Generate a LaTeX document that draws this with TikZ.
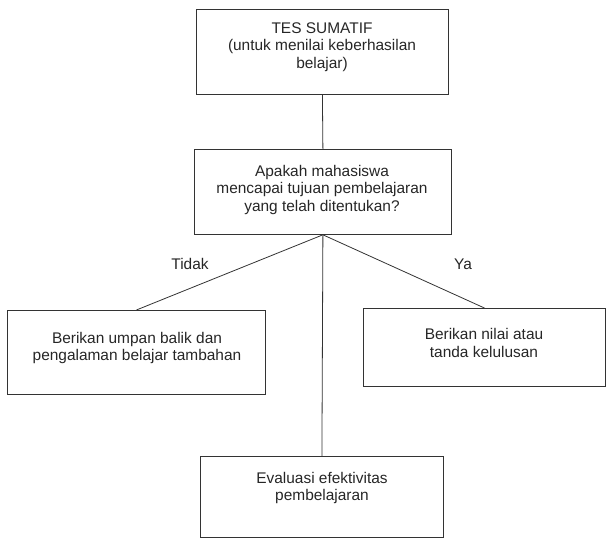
\documentclass[tikz,border=0pt]{standalone}
\usepackage{fontspec}
\setmainfont{Liberation Sans}
\begin{document}
\begin{tikzpicture}[x=1bp,y=-1bp,
  boxframe/.style={draw=black!80,line width=0.8bp},
  boxtext/.style={align=center,text=black!85,font=\fontsize{15.5}{17.5}\selectfont,inner sep=0pt},
  link/.style={draw=black!80,line width=0.8bp},
  lbl/.style={text=black!85,font=\fontsize{15.5}{17.5}\selectfont,inner sep=0pt}]
\useasboundingbox (0,0) rectangle (613,540);
% boxes
\node[boxframe,minimum width=252bp,minimum height=85bp,anchor=north west] (b1) at (196,9) {};
\node[boxtext] (t1) at (322,47) {TES SUMATIF\\(untuk menilai keberhasilan\\belajar)};
\node[boxframe,minimum width=257bp,minimum height=85bp,anchor=north west] (b2) at (194,149) {};
\node[boxtext] (t2) at (322,190) {Apakah mahasiswa\\mencapai tujuan pembelajaran\\yang telah ditentukan?};
\node[boxframe,minimum width=258bp,minimum height=84bp,anchor=north west] (b3) at (7,310) {};
\node[boxtext] (t3) at (137,348) {Berikan umpan balik dan\\pengalaman belajar tambahan};
\node[boxframe,minimum width=242bp,minimum height=78bp,anchor=north west] (b4) at (363,308) {};
\node[boxtext] (t4) at (484,343) {Berikan nilai atau\\tanda kelulusan};
\node[boxframe,minimum width=243bp,minimum height=81bp,anchor=north west] (b5) at (200,456) {};
\node[boxtext] (t5) at (322,488) {Evaluasi efektivitas\\pembelajaran};
% labels
\node[lbl] (no) at (190,264) {Tidak};
\node[lbl] (yes) at (463,264) {Ya};
% connectors
\coordinate (split) at (b2.south);
\draw[link] (b1.south) -- (b2.north);
\draw[link] (split) -- (b3.north);
\draw[link] (split) -- (b4.north);
\draw[link] (split) -- (b5.north);
\end{tikzpicture}
\end{document}
